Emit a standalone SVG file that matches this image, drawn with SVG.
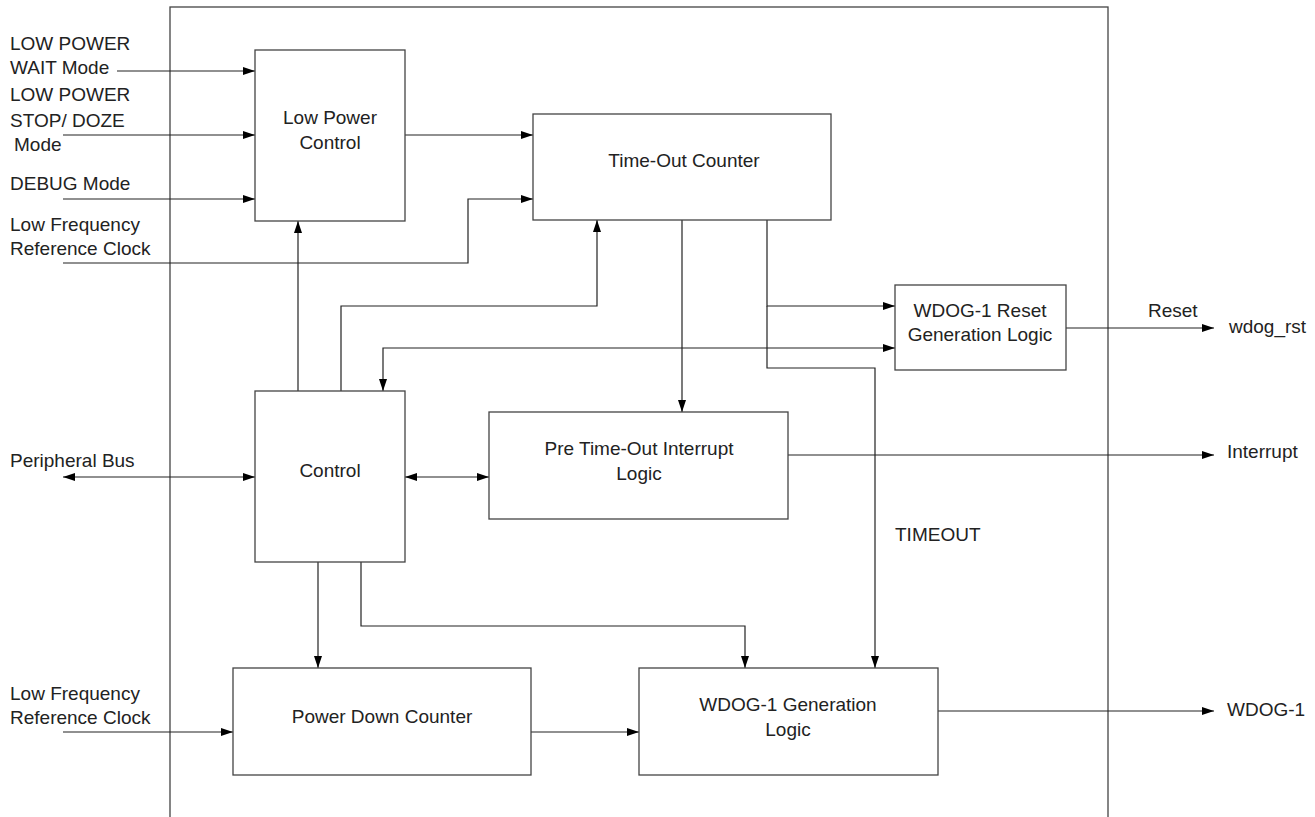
<svg xmlns="http://www.w3.org/2000/svg" width="1315" height="817" viewBox="0 0 1315 817">
<style>
text{font-family:"Liberation Sans",Arial,sans-serif;font-size:19px;fill:#222}
.c{text-anchor:middle}
.box{fill:#fff;stroke:#444;stroke-width:1.3}
.ln{fill:none;stroke:#222;stroke-width:1.2}
</style>
<defs>
<marker id="a" viewBox="0 0 12 8" refX="12" refY="4" markerWidth="12" markerHeight="8" markerUnits="userSpaceOnUse" orient="auto-start-reverse">
<path d="M0,0 L12,4 L0,8 z" fill="#000"/>
</marker>
</defs>
<rect x="170" y="7" width="938" height="830" fill="none" stroke="#444" stroke-width="1.3"/>
<g id="inputs">
<text x="10" y="50">LOW POWER</text>
<text x="10" y="74">WAIT Mode</text>
<text x="10" y="101">LOW POWER</text>
<text x="10" y="127">STOP/ DOZE</text>
<text x="14" y="151">Mode</text>
<text x="10" y="190">DEBUG Mode</text>
<text x="10" y="231">Low Frequency</text>
<text x="10" y="255">Reference Clock</text>
<text x="10" y="467">Peripheral Bus</text>
<text x="10" y="700">Low Frequency</text>
<text x="10" y="724">Reference Clock</text>
</g>
<g id="outputs">
<text x="1148" y="317">Reset</text>
<text x="1229" y="333">wdog_rst</text>
<text x="1227" y="458">Interrupt</text>
<text x="1227" y="716">WDOG-1</text>
<text x="895" y="541">TIMEOUT</text>
</g>
<g id="connectors">
<path class="ln" d="M117,71 H255" marker-end="url(#a)"/>
<path class="ln" d="M63,135 H255" marker-end="url(#a)"/>
<path class="ln" d="M63,199 H255" marker-end="url(#a)"/>
<path class="ln" d="M63,263 H468 V199 H533" marker-end="url(#a)"/>
<path class="ln" d="M405,135 H533" marker-end="url(#a)"/>
<path class="ln" d="M298,391 V221" marker-end="url(#a)"/>
<path class="ln" d="M341,391 V306 H597 V220" marker-end="url(#a)"/>
<path class="ln" d="M383,391 V348 H895" marker-start="url(#a)" marker-end="url(#a)"/>
<path class="ln" d="M767,220 V306 H895" marker-end="url(#a)"/>
<path class="ln" d="M767,306 V368 H875 V668" marker-end="url(#a)"/>
<path class="ln" d="M682,220 V412" marker-end="url(#a)"/>
<path class="ln" d="M63,477 H255" marker-start="url(#a)" marker-end="url(#a)"/>
<path class="ln" d="M405,477 H489" marker-start="url(#a)" marker-end="url(#a)"/>
<path class="ln" d="M1066,328 H1214" marker-end="url(#a)"/>
<path class="ln" d="M788,455 H1214" marker-end="url(#a)"/>
<path class="ln" d="M318,562 V668" marker-end="url(#a)"/>
<path class="ln" d="M361,562 V626 H745 V668" marker-end="url(#a)"/>
<path class="ln" d="M63,732 H233" marker-end="url(#a)"/>
<path class="ln" d="M531,732 H639" marker-end="url(#a)"/>
<path class="ln" d="M938,711 H1214" marker-end="url(#a)"/>
</g>
<g id="lowpower">
<rect class="box" x="255" y="50" width="150" height="171"/>
<text class="c" x="330" y="124">Low Power</text>
<text class="c" x="330" y="149">Control</text>
</g>
<g id="timeout">
<rect class="box" x="533" y="114" width="298" height="106"/>
<text class="c" x="684" y="167">Time-Out Counter</text>
</g>
<g id="reset">
<rect class="box" x="895" y="285" width="171" height="85"/>
<text class="c" x="980" y="317">WDOG-1 Reset</text>
<text class="c" x="980" y="341">Generation Logic</text>
</g>
<g id="control">
<rect class="box" x="255" y="391" width="150" height="171"/>
<text class="c" x="330" y="477">Control</text>
</g>
<g id="pretimeout">
<rect class="box" x="489" y="412" width="299" height="107"/>
<text class="c" x="639" y="455">Pre Time-Out Interrupt</text>
<text class="c" x="639" y="480">Logic</text>
</g>
<g id="powerdown">
<rect class="box" x="233" y="668" width="298" height="107"/>
<text class="c" x="382" y="723">Power Down Counter</text>
</g>
<g id="wdoggen">
<rect class="box" x="639" y="668" width="299" height="107"/>
<text class="c" x="788" y="711">WDOG-1 Generation</text>
<text class="c" x="788" y="736">Logic</text>
</g>
</svg>
